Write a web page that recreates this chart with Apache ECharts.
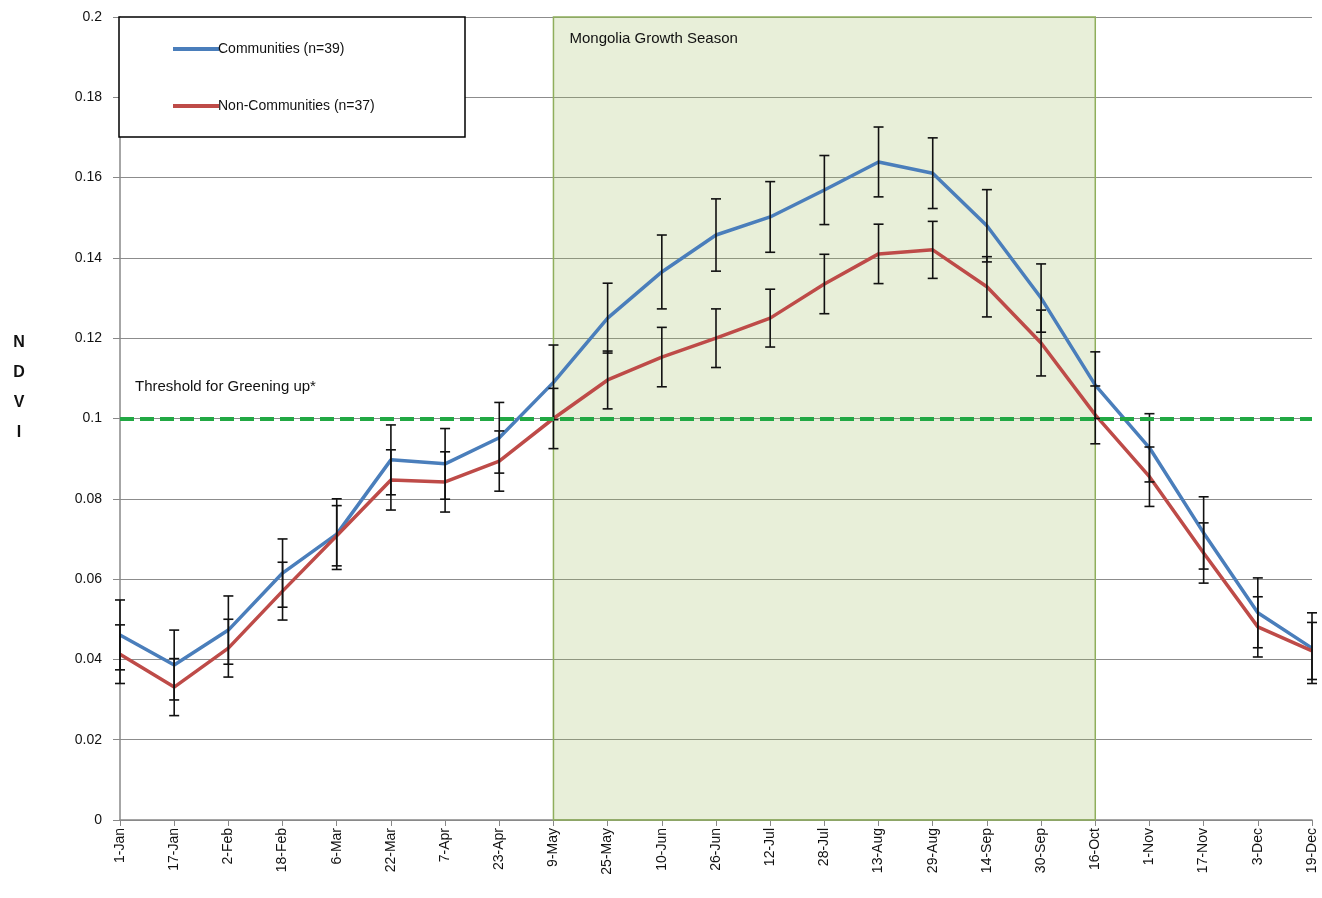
<!DOCTYPE html>
<html>
<head>
<meta charset="utf-8">
<script src="https://cdn.jsdelivr.net/npm/echarts@6/dist/echarts.min.js"></script>
<style>
html,body{margin:0;padding:0;background:#fff;}
#main{width:1322px;height:898px;}
</style>
</head>
<body>
<div id="main"></div>
<script>
var categories = ['1-Jan','17-Jan','2-Feb','18-Feb','6-Mar','22-Mar','7-Apr','23-Apr','9-May','25-May','10-Jun','26-Jun','12-Jul','28-Jul','13-Aug','29-Aug','14-Sep','30-Sep','16-Oct','1-Nov','17-Nov','3-Dec','19-Dec'];
var communities = [0.0461,0.0386,0.0473,0.0615,0.0712,0.0897,0.0887,0.0952,0.1090,0.1250,0.1365,0.1457,0.1502,0.1569,0.1639,0.1611,0.1480,0.1300,0.1083,0.0927,0.0715,0.0516,0.0428];
var communitiesErr = [0.0087,0.0087,0.0085,0.0085,0.0088,0.0087,0.0088,0.0088,0.0093,0.0087,0.0092,0.0090,0.0088,0.0086,0.0087,0.0088,0.0090,0.0085,0.0083,0.0085,0.0090,0.0087,0.0088];
var nonCommunities = [0.0413,0.0331,0.0428,0.0570,0.0708,0.0847,0.0842,0.0894,0.1000,0.1096,0.1153,0.1200,0.1250,0.1335,0.1410,0.1420,0.1328,0.1188,0.1009,0.0855,0.0665,0.0481,0.0421];
var nonCommunitiesErr = [0.0073,0.0071,0.0072,0.0072,0.0075,0.0075,0.0075,0.0075,0.0075,0.0072,0.0074,0.0073,0.0072,0.0074,0.0074,0.0071,0.0075,0.0082,0.0072,0.0074,0.0075,0.0075,0.0071];
var yTicks = {min: 0, max: 0.2, interval: 0.02};
var threshold = 0.1;
var seasonStart = '9-May', seasonEnd = '16-Oct';
var seasonLabel = 'Mongolia Growth Season';
var thresholdLabel = 'Threshold for Greening up*';
var seriesNames = ['Communities (n=39)', 'Non-Communities (n=37)'];

var FONT = 'Liberation Sans';
var BLUE = '#4a7ebb', RED = '#be4b48';

function errData(vals, errs) {
  return vals.map(function (v, i) { return [i, v - errs[i], v + errs[i]]; });
}
function errRender(params, api) {
  var x = api.value(0);
  var lo = api.coord([x, api.value(1)]);
  var hi = api.coord([x, api.value(2)]);
  var w = 5;
  var st = {stroke: '#111', lineWidth: 1.6};
  return {type: 'group', children: [
    {type: 'line', shape: {x1: lo[0], y1: lo[1], x2: hi[0], y2: hi[1]}, style: st},
    {type: 'line', shape: {x1: lo[0]-w, y1: lo[1], x2: lo[0]+w, y2: lo[1]}, style: st},
    {type: 'line', shape: {x1: hi[0]-w, y1: hi[1], x2: hi[0]+w, y2: hi[1]}, style: st}
  ]};
}

var chart = echarts.init(document.getElementById('main'));
chart.setOption({
  animation: false,
  backgroundColor: '#fff',
  grid: {left: 120, right: 10, top: 17, bottom: 78, containLabel: false},
  legend: {
    data: seriesNames,
    orient: 'vertical',
    left: 168, top: 37,
    itemGap: 43,
    itemWidth: 46, itemHeight: 4,
    icon: 'rect',
    z: 10,
    textStyle: {fontFamily: FONT, fontSize: 14, color: '#111', padding: [0,0,0,-6]}
  },
  xAxis: {
    type: 'category',
    data: categories,
    boundaryGap: false,
    axisLine: {lineStyle: {color: '#888', width: 1.5}},
    axisTick: {show: true, length: 6, inside: false, lineStyle: {color: '#888'}},
    axisLabel: {rotate: 90, fontFamily: FONT, fontSize: 14, color: '#111', margin: 8, interval: 0},
    splitLine: {show: false}
  },
  yAxis: {
    type: 'value',
    min: yTicks.min, max: yTicks.max, interval: yTicks.interval,
    axisLine: {show: true, lineStyle: {color: '#888', width: 1.5}},
    axisTick: {show: true, length: 7, lineStyle: {color: '#888'}},
    axisLabel: {fontFamily: FONT, fontSize: 14, color: '#111', margin: 18},
    splitLine: {show: true, lineStyle: {color: '#8c8c8c', width: 1.2}}
  },
  series: [
    {
      name: 'season', type: 'line', data: [], silent: true,
      markArea: {
        silent: true,
        itemStyle: {color: 'rgba(155,187,89,0.23)', borderColor: '#8fae5c', borderWidth: 1.5},
        label: {show: false},
        data: [[{xAxis: seasonStart, yAxis: yTicks.min}, {xAxis: seasonEnd, yAxis: yTicks.max}]]
      },
      markLine: {
        silent: true, symbol: 'none',
        lineStyle: {color: '#22a844', width: 4, type: [14, 6]},
        label: {show: false},
        data: [{yAxis: threshold}]
      }
    },
    {name: seriesNames[0], type: 'line', data: communities, showSymbol: false, lineStyle: {color: BLUE, width: 3.5}, itemStyle: {color: BLUE}, z: 3},
    {name: seriesNames[1], type: 'line', data: nonCommunities, showSymbol: false, lineStyle: {color: RED, width: 3.5}, itemStyle: {color: RED}, z: 3},
    {name: 'errC', type: 'custom', data: errData(communities, communitiesErr), renderItem: errRender, encode: {x: 0, y: [1, 2]}, z: 4},
    {name: 'errN', type: 'custom', data: errData(nonCommunities, nonCommunitiesErr), renderItem: errRender, encode: {x: 0, y: [1, 2]}, z: 4}
  ]
});

var pSeason = chart.convertToPixel({xAxisIndex: 0, yAxisIndex: 0}, [seasonStart, yTicks.max]);
var pThresh = chart.convertToPixel({xAxisIndex: 0, yAxisIndex: 0}, [categories[0], threshold]);
chart.setOption({
  graphic: [
    {type: 'rect', z: 3, shape: {x: 119, y: 17, width: 346, height: 120}, style: {fill: '#fff', stroke: '#000', lineWidth: 1.5}},
    {type: 'text', z: 5, x: pSeason[0] + 16, y: pSeason[1] + 14, style: {text: seasonLabel, fontFamily: FONT, fontSize: 15, fill: '#111'}},
    {type: 'text', z: 5, x: pThresh[0] + 15, y: pThresh[1] - 39, style: {text: thresholdLabel, fontFamily: FONT, fontSize: 15, fill: '#111'}},
    {type: 'text', z: 5, x: 19, y: 328, style: {text: 'N\nD\nV\nI', fontFamily: FONT, fontSize: 16, fontWeight: 'bold', fill: '#111', lineHeight: 30, align: 'center'}}
  ]
});
</script>
</body>
</html>
